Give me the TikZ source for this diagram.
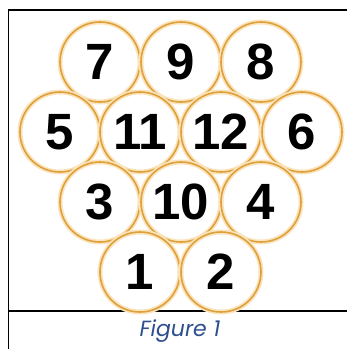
\documentclass[tikz,border=0pt]{standalone}
\usepackage{fontspec}
\setmainfont{Liberation Sans}
\newfontfamily\captionfont{Poppins}
\usetikzlibrary{positioning}

\definecolor{ringgold}{HTML}{DFA03A}
\definecolor{ringglow}{HTML}{FAE4BE}
\definecolor{captionblue}{HTML}{2E4F8E}

\begin{document}
\begin{tikzpicture}[
    x=1pt,
    y=-1pt,
    ball/.style={circle, draw=ringgold, line width=1.6pt, minimum size=80pt, inner sep=0pt,
        preaction={draw=ringglow, line width=5pt},
        font=\fontsize{51}{51}\selectfont\bfseries},
    frame/.style={line width=1.5pt, black}
]
\useasboundingbox (0,0) rectangle (347,349);

%---------------- Frame ----------------
\coordinate (topleft) at (8.5,10);
\coordinate (topright) at (347,10);
\coordinate (bottomleft) at (8.5,349);
\coordinate (midleft) at (8.5,311);
\coordinate (midright) at (347,311);
\draw[frame] (bottomleft) -- (topleft) -- (topright);
\draw[frame] (midleft) -- (midright);

%---------------- Balls ----------------
\foreach \name/\x/\y in {7/100/62, 9/181/62, 8/261/62,
                         5/60/132, 11/140/132, 12/221/132, 6/302/132,
                         3/100/202, 10/181/202, 4/261/202,
                         1/140/272, 2/221/272} {
    \node[ball] (c\name) at (\x,\y) {\name};
}

%---------------- Caption ----------------
\node[font=\captionfont\itshape\fontsize{22}{22}\selectfont, text=captionblue] (caption) at (180,331) {Figure 1};
\end{tikzpicture}
\end{document}
